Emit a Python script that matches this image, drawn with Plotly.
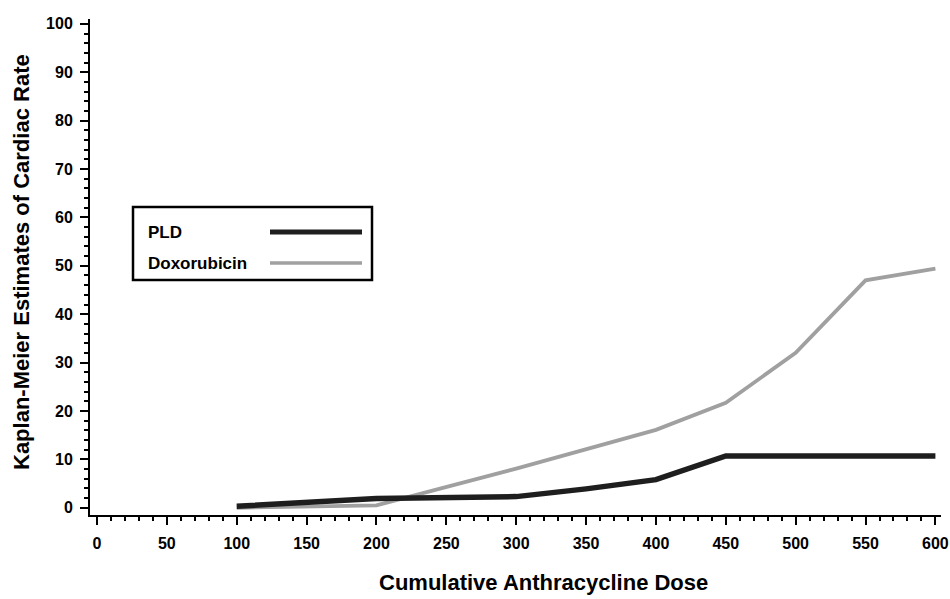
import plotly.graph_objects as go

# ---- data ----
dose = [100, 200, 300, 350, 400, 450, 500, 550, 600]
pld = [0.3, 1.9, 2.3, 3.9, 5.8, 10.7, 10.7, 10.7, 10.7]
doxorubicin = [0.0, 0.5, 8.1, 12.1, 16.1, 21.7, 32.0, 47.0, 49.4]
series_names = ["PLD", "Doxorubicin"]
x_ticks = [0, 50, 100, 150, 200, 250, 300, 350, 400, 450, 500, 550, 600]
y_ticks = [0, 10, 20, 30, 40, 50, 60, 70, 80, 90, 100]

FONT = "Liberation Sans, Arial, sans-serif"
PLD_COLOR = "#1e1e1e"
DOX_COLOR = "#a0a0a0"

fig = go.Figure()
fig.add_trace(go.Scatter(x=dose, y=doxorubicin, mode="lines", name=series_names[1],
                         line=dict(color=DOX_COLOR, width=3.8), showlegend=False))
fig.add_trace(go.Scatter(x=dose, y=pld, mode="lines", name=series_names[0],
                         line=dict(color=PLD_COLOR, width=5.5), showlegend=False))

# page geometry (body margin removed via post_script)
PX0, PX1, PY0, PY1 = 90, 941, 19, 515   # plot area in page pixels
W, H = 950, 599
L, T = PX0, PY0
R = W - PX1
B = H - PY1
pw, ph = PX1 - PX0, PY1 - PY0
def px(xp):
    return (xp - PX0) / pw
def py(yp):
    return (PY1 - yp) / ph

axis_common = dict(showline=True, linecolor="black", linewidth=2, ticks="outside",
                   ticklen=8, tickwidth=2, tickcolor="black", showgrid=False,
                   zeroline=False, automargin=False,
                   tickfont=dict(family=FONT, size=16, color="black", weight="bold"))

fig.update_xaxes(range=[-5, 604], tickvals=x_ticks, ticktext=[str(v) for v in x_ticks],
                 minor=dict(dtick=10, tick0=0, ticks="outside", ticklen=4, tickwidth=1.5,
                            tickcolor="black", showgrid=False),
                 ticklabelstandoff=5, **axis_common)
fig.update_yaxes(range=[-1.5, 101], tickvals=y_ticks, ticktext=[str(v) for v in y_ticks],
                 minor=dict(dtick=2, tick0=0, ticks="outside", ticklen=4, tickwidth=1.5,
                            tickcolor="black", showgrid=False),
                 ticklabelstandoff=4, **axis_common)

# custom legend (text left, line sample right)
fig.add_shape(type="rect", xref="paper", yref="paper",
              x0=px(133), x1=px(372), y0=py(280), y1=py(207),
              line=dict(color="black", width=2.5), fillcolor="white", layer="above")
legend_rows = [(series_names[0], PLD_COLOR, 5, 232), (series_names[1], DOX_COLOR, 3.5, 263)]
for name, color, width, yp in legend_rows:
    fig.add_annotation(text="<b>%s</b>" % name, xref="paper", yref="paper",
                       x=px(146), y=py(yp), xanchor="left", yanchor="middle",
                       showarrow=False, font=dict(family=FONT, size=17, color="black"))
    fig.add_shape(type="line", xref="paper", yref="paper",
                  x0=px(270), x1=px(362), y0=py(yp), y1=py(yp),
                  line=dict(color=color, width=width), layer="above")

# axis titles
fig.add_annotation(text="<b>Cumulative Anthracycline Dose</b>", xref="paper", yref="paper",
                   x=px(543), y=py(582), xanchor="center", yanchor="middle", showarrow=False,
                   font=dict(family=FONT, size=22, color="black"))
fig.add_annotation(text="<b>Kaplan-Meier Estimates of Cardiac Rate</b>", xref="paper", yref="paper",
                   x=px(21), y=py(262), xanchor="center", yanchor="middle", showarrow=False,
                   textangle=-90, font=dict(family=FONT, size=22, color="black"))

fig.update_layout(width=W, height=H, margin=dict(l=L, r=R, t=T, b=B, autoexpand=False),
                  plot_bgcolor="white", paper_bgcolor="white",
                  font=dict(family=FONT, color="black"))

fig.write_html("out.html", config={"displayModeBar": False},
               post_script="document.body.style.margin='0';document.body.style.overflow='hidden';")
